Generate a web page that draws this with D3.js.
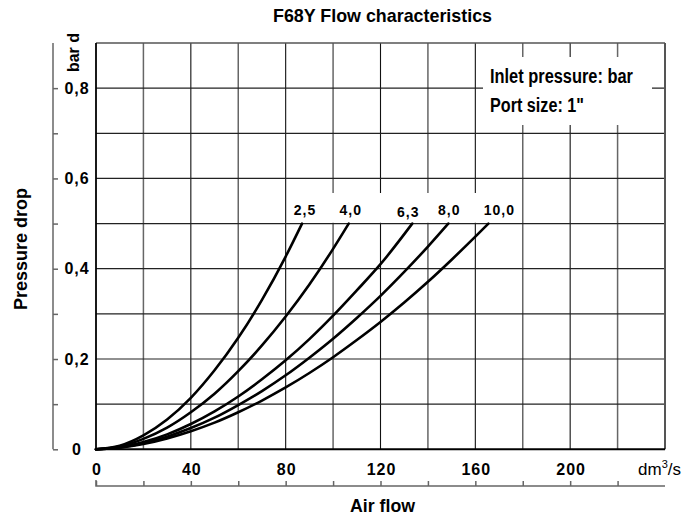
<!DOCTYPE html>
<html>
<head>
<meta charset="utf-8">
<script src="https://cdn.jsdelivr.net/npm/d3@7"></script>
<style>
  html, body { margin: 0; padding: 0; background: #fff; }
  svg { display: block; }
  text { font-family: "Liberation Sans", Arial, sans-serif; fill: #000; }
</style>
</head>
<body>
<svg id="chart" width="700" height="524"></svg>
<script>
// ---------- data ----------
const chartTitle = "F68Y Flow characteristics";
const xAxisTitle = "Air flow";
const yAxisTitle = "Pressure drop";
const yUnit = "bar d";
const legendLines = ["Inlet pressure: bar", "Port size: 1\""];

const xTickValues = [0, 40, 80, 120, 160, 200];
const xTickLabels = ["0", "40", "80", "120", "160", "200"];
const yTickValues = [0, 0.2, 0.4, 0.6, 0.8];
const yTickLabels = ["0", "0,2", "0,4", "0,6", "0,8"];

const inletPressures = ["2,5", "4,0", "6,3", "8,0", "10,0"];

const flow25 = [0, 10, 20, 30, 40, 50, 60, 70, 80, 86.9];
const drop25 = [0, 0.008, 0.031, 0.066, 0.114, 0.175, 0.247, 0.331, 0.427, 0.5];

const flow40 = [0, 10, 20, 30, 40, 50, 60, 70, 80, 90, 100, 106.6];
const drop40 = [0, 0.006, 0.023, 0.048, 0.082, 0.123, 0.173, 0.230, 0.294, 0.365, 0.444, 0.5];

const flow63 = [0, 10, 20, 30, 40, 50, 60, 70, 80, 90, 100, 110, 120, 133.4];
const drop63 = [0, 0.0045, 0.016, 0.033, 0.056, 0.084, 0.117, 0.155, 0.197, 0.244, 0.296, 0.352, 0.410, 0.5];

const flow80 = [0, 10, 20, 30, 40, 50, 60, 70, 80, 90, 100, 110, 120, 130, 140, 148.6];
const drop80 = [0, 0.004, 0.0135, 0.028, 0.047, 0.070, 0.098, 0.129, 0.164, 0.203, 0.245, 0.291, 0.340, 0.393, 0.449, 0.5];

const flow100 = [0, 10, 20, 30, 40, 50, 60, 70, 80, 90, 100, 110, 120, 130, 140, 150, 160, 165.5];
const drop100 = [0, 0.0034, 0.0116, 0.024, 0.040, 0.059, 0.082, 0.108, 0.137, 0.169, 0.204, 0.242, 0.282, 0.325, 0.371, 0.420, 0.471, 0.5];

const seriesFlows = [flow25, flow40, flow63, flow80, flow100];
const seriesDrops = [drop25, drop40, drop63, drop80, drop100];

// ---------- drawing ----------
const svg = d3.select("#chart");
const plot = { left: 96, right: 665, top: 43, bottom: 449.3 };

const x = d3.scaleLinear().domain([0, 240]).range([plot.left, plot.right]);
const y = d3.scaleLinear().domain([0, 0.9]).range([plot.bottom, plot.top]);

const gridX = d3.range(20, 240, 20);
const gridY = d3.range(1, 9).map(d => d / 10);

// grid
const grid = svg.append("g");
grid.selectAll("line.v").data(gridX).join("line")
  .attr("x1", d => x(d)).attr("x2", d => x(d))
  .attr("y1", plot.top).attr("y2", plot.bottom)
  .attr("stroke", d => (d % 40 === 0) ? "#111" : "#666")
  .attr("stroke-width", d => (d % 40 === 0) ? 1.1 : 1.5);
grid.selectAll("line.h").data(gridY).join("line")
  .attr("x1", plot.left).attr("x2", plot.right)
  .attr("y1", d => y(d)).attr("y2", d => y(d))
  .attr("stroke", "#222").attr("stroke-width", 1.2);

// white masks: legend box and curve-label band
svg.append("rect").attr("x", 483).attr("y", 57).attr("width", 169).attr("height", 68).attr("fill", "#fff");
svg.append("rect").attr("x", x(80) + 2).attr("y", 193).attr("width", x(180) - x(80) - 4)
  .attr("height", y(0.5) - 193 - 0.8).attr("fill", "#fff");

// frame
svg.append("line").attr("x1", plot.left).attr("x2", plot.right).attr("y1", plot.top).attr("y2", plot.top)
  .attr("stroke", "#555").attr("stroke-width", 1.6);
svg.append("line").attr("x1", plot.right).attr("x2", plot.right).attr("y1", plot.top).attr("y2", plot.bottom)
  .attr("stroke", "#555").attr("stroke-width", 2);
svg.append("line").attr("x1", plot.left).attr("x2", plot.left).attr("y1", plot.top).attr("y2", plot.bottom)
  .attr("stroke", "#000").attr("stroke-width", 1.8);
svg.append("line").attr("x1", plot.left).attr("x2", plot.right).attr("y1", plot.bottom).attr("y2", plot.bottom)
  .attr("stroke", "#000").attr("stroke-width", 2);

// left detached axis
const yAxisG = svg.append("g").attr("transform", "translate(53,0)");
yAxisG.call(d3.axisRight(y).tickValues(gridY.concat([0])).tickSize(5).tickFormat(""));
yAxisG.select(".domain").attr("d", `M0,${plot.top}V${plot.bottom}`).attr("stroke", "#666").attr("stroke-width", 1.5);
yAxisG.selectAll(".tick line").attr("stroke", "#666").attr("stroke-width", 1.5);

svg.append("g").selectAll("text").data(yTickValues).join("text")
  .attr("x", 77).attr("y", d => y(d) + 5.5)
  .attr("text-anchor", "middle")
  .attr("font-size", 16).attr("font-weight", "bold").attr("letter-spacing", 1)
  .text((d, i) => yTickLabels[i]);

// bottom detached axis
const xAxisG = svg.append("g").attr("transform", "translate(0,486)");
xAxisG.call(d3.axisTop(x).tickValues(d3.range(0, 240, 20)).tickSize(5).tickFormat(""));
xAxisG.select(".domain").attr("d", `M${plot.left},-6V0H${plot.right}`).attr("stroke", "#666").attr("stroke-width", 1.5).attr("fill", "none");
xAxisG.selectAll(".tick line").attr("stroke", "#666").attr("stroke-width", 1.5);

svg.append("g").selectAll("text").data(xTickValues).join("text")
  .attr("x", d => x(d) + 1).attr("y", 475)
  .attr("text-anchor", "middle")
  .attr("font-size", 16).attr("font-weight", "bold").attr("letter-spacing", 1)
  .text((d, i) => xTickLabels[i]);

// unit dm3/s
const unit = svg.append("text").attr("x", 638).attr("y", 475).attr("font-size", 17);
unit.append("tspan").text("dm");
unit.append("tspan").attr("font-size", 11).attr("dy", -7).text("3");
unit.append("tspan").attr("dy", 7).text("/s");

// curves
const line = d3.line().x(d => x(d[0])).y(d => y(d[1])).curve(d3.curveMonotoneX);
seriesFlows.forEach((fl, i) => {
  const pts = fl.map((f, j) => [f, seriesDrops[i][j]]);
  svg.append("path").attr("d", line(pts))
    .attr("fill", "none").attr("stroke", "#000").attr("stroke-width", 2.6)
    .attr("stroke-linecap", "round");
});

// curve labels
const labelDx = [3, 2, -4, 1, 11];
const labelDy = [-9, -9, -7, -9, -9];
svg.append("g").selectAll("text").data(inletPressures).join("text")
  .attr("x", (d, i) => x(seriesFlows[i][seriesFlows[i].length - 1]) + labelDx[i])
  .attr("y", (d, i) => y(0.5) + labelDy[i])
  .attr("text-anchor", "middle")
  .attr("font-size", 14).attr("font-weight", "bold").attr("letter-spacing", 1)
  .text(d => d);

// legend text
svg.append("text").attr("x", 490).attr("y", 83.3).attr("font-size", 20).attr("font-weight", "bold")
  .attr("textLength", 143).attr("lengthAdjust", "spacingAndGlyphs").text(legendLines[0]);
svg.append("text").attr("x", 490).attr("y", 111.7).attr("font-size", 20).attr("font-weight", "bold")
  .attr("textLength", 94).attr("lengthAdjust", "spacingAndGlyphs").text(legendLines[1]);

// titles
svg.append("text").attr("x", 273).attr("y", 21.5).attr("font-size", 19).attr("font-weight", "bold")
  .attr("textLength", 219).attr("lengthAdjust", "spacingAndGlyphs").text(chartTitle);
svg.append("text").attr("x", 350).attr("y", 512).attr("font-size", 18).attr("font-weight", "bold")
  .attr("textLength", 65).attr("lengthAdjust", "spacingAndGlyphs").text(xAxisTitle);
svg.append("text").attr("transform", "translate(27,310) rotate(-90)")
  .attr("font-size", 18).attr("font-weight", "bold")
  .attr("textLength", 122).attr("lengthAdjust", "spacingAndGlyphs").text(yAxisTitle);
svg.append("text").attr("transform", "translate(79,72) rotate(-90)")
  .attr("font-size", 16).attr("font-weight", "bold")
  .attr("textLength", 39).attr("lengthAdjust", "spacingAndGlyphs").text(yUnit);
</script>
</body>
</html>
